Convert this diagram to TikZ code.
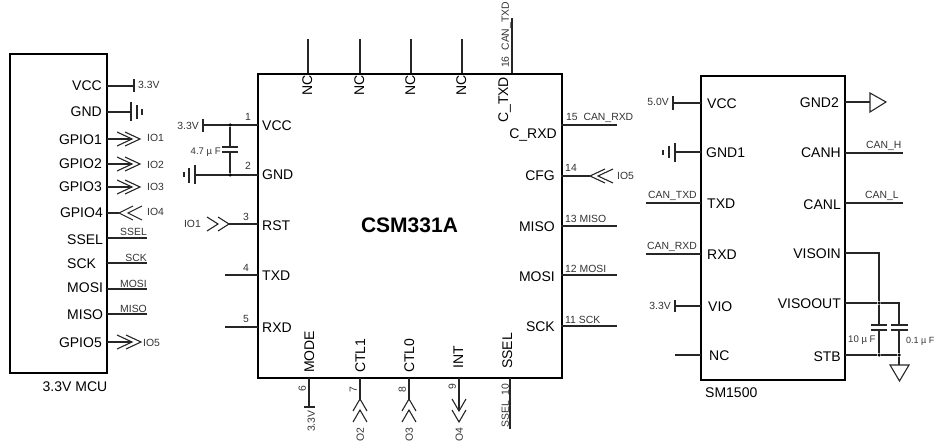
\documentclass[tikz,border=0pt]{standalone}
\usepackage{fontspec}
\setmainfont{Liberation Sans}
\newcommand{\myfs}[1]{\fontsize{#1}{#1}\selectfont}
\tikzset{
 icbox/.style={draw,line width=2pt,inner sep=0pt,rectangle},
 wire/.style={line width=1.2pt,black!85},
 chevline/.style={line width=1.1pt,black!85,line join=miter},
 pinname/.style={font=\myfs{14},inner sep=0pt,text height=10pt,text depth=0pt},
 smalltxt/.style={font=\myfs{10.4},text=black!80,inner sep=0pt,text height=7.5pt,text depth=0pt},
 capval/.style={smalltxt,font=\myfs{9.6}},
 dot/.style={circle,fill=black,inner sep=0pt,minimum size=3.5pt}
}
% \mywire{name}{x1,y1}{x2,y2}: named wire ends, then the wire between them
\newcommand{\mywire}[3]{\coordinate (#1a) at (#2);\coordinate (#1b) at (#3);\draw[wire] (#1a) -- (#1b);}
% \mychv[depth]{x,y}{angle}: one open chevron, tip at x,y
\newcommand{\mychv}[3][15]{\begin{scope}[shift={(#2)},rotate=#3]\draw[chevline] (-#1,-7) -- (0,0) -- (-#1,7);\end{scope}}
\newcommand{\mybar}[3]{\draw[wire] (#1,#2) -- (#1,#3);}
\begin{document}
\begin{tikzpicture}[x=1pt,y=-1pt]
\useasboundingbox (0,0) rectangle (935,441);
% ---------- MCU
\node[icbox,minimum width=97pt,minimum height=319pt] (mcu) at (58.5,213.5) {};
\node[pinname,anchor=center] (mcuname) at (75,386) {3.3V MCU};
\node[pinname,anchor=east] (m1) at (102,86) {VCC};
\node[pinname,anchor=east] (m2) at (102,112) {GND};
\node[pinname,anchor=east] (m3) at (102,140) {GPIO1};
\node[pinname,anchor=east] (m4) at (102,164) {GPIO2};
\node[pinname,anchor=east] (m5) at (102,187) {GPIO3};
\node[pinname,anchor=east] (m6) at (103,213) {GPIO4};
\node[pinname,anchor=west] (m7) at (67,239) {SSEL};
\node[pinname,anchor=west] (m8) at (67,263) {SCK};
\node[pinname,anchor=west] (m9) at (67,287) {MOSI};
\node[pinname,anchor=west] (m10) at (67,314) {MISO};
\node[pinname,anchor=east] (m11) at (102,342) {GPIO5};
\mywire{mv}{107,86}{134,86} \mybar{134}{79}{92}
\node[smalltxt,anchor=west] (mvt) at (138,85) {3.3V};
\mywire{mg}{107,112}{131,112} \mybar{131}{102}{121} \mybar{137}{105}{119} \mybar{142}{109}{115}
\mywire{mi1}{107,139}{132,139} \mychv{132,139}{0} \mychv{140,139}{0}
\node[smalltxt,anchor=west] (mi1t) at (147,138) {IO1};
\mywire{mi2}{107,164}{132,164} \mychv{132,164}{0} \mychv{140,164}{0}
\node[smalltxt,anchor=west] (mi2t) at (147,165) {IO2};
\mywire{mi3}{107,187}{132,187} \mychv{132,187}{0} \mychv{140,187}{0}
\node[smalltxt,anchor=west] (mi3t) at (147,187) {IO3};
\mywire{mi4}{107,213}{119,213} \mychv[14]{119,213}{180} \mychv[14]{128,213}{180}
\node[smalltxt,anchor=west] (mi4t) at (147,212) {IO4};
\mywire{ms1}{107,238}{147,238} \node[smalltxt,anchor=east] (ms1t) at (147,232) {SSEL};
\mywire{ms2}{107,263}{147,263} \node[smalltxt,anchor=east] (ms2t) at (147,258) {SCK};
\mywire{ms3}{107,289}{147,289} \node[smalltxt,anchor=east] (ms3t) at (147,284) {MOSI};
\mywire{ms4}{107,314}{147,314} \node[smalltxt,anchor=east] (ms4t) at (147,309) {MISO};
\mywire{mi5}{107,342}{132,342} \mychv{132,342}{0} \mychv{141,342}{0}
\node[smalltxt,anchor=west] (mi5t) at (143,343) {IO5};
% ---------- CSM331A
\node[icbox,minimum width=304pt,minimum height=304pt] (csm) at (409.5,226) {};
\node[font=\bfseries\myfs{21},inner sep=0pt] (csmname) at (409.5,225) {CSM331A};
\node[pinname,anchor=west] (c1) at (262,126) {VCC};
\node[pinname,anchor=west] (c2) at (262,175) {GND};
\node[pinname,anchor=west] (c3) at (262,225) {RST};
\node[pinname,anchor=west] (c4) at (262,275) {TXD};
\node[pinname,anchor=west] (c5) at (262,327) {RXD};
\node[pinname,anchor=east] (c15) at (557,134) {C\_RXD};
\node[pinname,anchor=east] (c14) at (555,176) {CFG};
\node[pinname,anchor=east] (c13) at (555,226) {MISO};
\node[pinname,anchor=east] (c12) at (555,276) {MOSI};
\node[pinname,anchor=east] (c11) at (555,326) {SCK};
\foreach \n/\xx in {a/307,b/359,c/410,d/461}{
  \node[pinname,rotate=90,anchor=west] (cnc\n) at (\xx,96) {NC};
}
\node[pinname,rotate=90,anchor=west] (c16) at (503,123) {C\_TXD};
\node[pinname,rotate=90,anchor=west] (c6) at (309,373) {MODE};
\node[pinname,rotate=90,anchor=west] (c7) at (360,373) {CTL1};
\node[pinname,rotate=90,anchor=west] (c8) at (409,373) {CTL0};
\node[pinname,rotate=90,anchor=west] (c9) at (458,369) {INT};
\node[pinname,rotate=90,anchor=west] (c10) at (507,369) {SSEL};
% left pins
\mywire{p1}{203,125}{258,125} \mybar{203}{119}{132}
\node[smalltxt,anchor=east] (p1v) at (199,126) {3.3V};
\node[smalltxt,anchor=center] (p1n) at (248,117) {1};
\mywire{p2}{195,175}{258,175} \mybar{195}{165}{184} \mybar{189}{168}{183} \mybar{184}{172}{177}
\node[smalltxt,anchor=center] (p2n) at (248,166) {2};
\node[dot] (j1) at (230,125) {};
\node[dot] (j2) at (230,175) {};
\coordinate (cp1) at (230,147); \coordinate (cp2) at (230,152);
\draw[wire] (j1) -- (cp1); \draw[wire] (cp2) -- (j2);
\draw[wire] (222,147) -- (238,147); \draw[wire] (222,152) -- (238,152);
\node[capval,anchor=east] (capa) at (221,151) {4.7 µ F};
\mywire{p3}{229,224}{258,224} \mychv[11]{229,224}{0} \mychv[11]{218,224}{0}
\node[smalltxt,anchor=east] (p3t) at (201,224) {IO1};
\node[smalltxt,anchor=center] (p3n) at (246,217) {3};
\mywire{p4}{225,275}{258,275} \node[smalltxt,anchor=center] (p4n) at (246,268) {4};
\mywire{p5}{225,327}{258,327} \node[smalltxt,anchor=center] (p5n) at (246,319) {5};
% top pins
\foreach \n/\xx in {a/308,b/360,c/411,d/462}{ \draw[wire] (\xx,39) -- (\xx,73); }
\mywire{p16}{512,18}{512,73}
\node[smalltxt,rotate=90,anchor=west] (p16t) at (505,68) {16\ \ CAN\_TXD};
% right pins
\mywire{p15}{561,125}{617,125}
\node[smalltxt,anchor=west] (p15t) at (566,117) {15\ \ CAN\_RXD};
\mywire{p14}{561,176}{590,176} \mychv{590,176}{180} \mychv{598,176}{180}
\node[smalltxt,anchor=center] (p14n) at (571,168) {14};
\node[smalltxt,anchor=west] (p14t) at (617,176) {IO5};
\mywire{p13}{561,226}{617,226} \node[smalltxt,anchor=west] (p13t) at (565,219) {13\ MISO};
\mywire{p12}{561,275}{617,275} \node[smalltxt,anchor=west] (p12t) at (565,269) {12\ MOSI};
\mywire{p11}{561,326}{617,326} \node[smalltxt,anchor=west] (p11t) at (565,320) {11\ SCK};
% bottom pins
\mywire{p6}{309,378}{309,407} \draw[wire] (304,407) -- (315,407);
\node[smalltxt,rotate=90,anchor=center] (p6n) at (302,389) {6};
\node[smalltxt,rotate=90,anchor=west] (p6t) at (311,432) {3.3V};
\mywire{p7}{360,378}{360,399} \mychv[12]{360,399}{90} \mychv[12]{360,410}{90}
\node[smalltxt,rotate=90,anchor=center] (p7n) at (353,390) {7};
\node[smalltxt,rotate=90,anchor=center] (p7t) at (360,435) {O2};
\mywire{p8}{409,378}{409,399} \mychv[12]{409,399}{90} \mychv[12]{409,410}{90}
\node[smalltxt,rotate=90,anchor=center] (p8n) at (402,390) {8};
\node[smalltxt,rotate=90,anchor=center] (p8t) at (409,435) {O3};
\mywire{p9}{459,378}{459,411} \mychv[12]{459,411}{-90} \mychv[12]{459,422}{-90}
\node[smalltxt,rotate=90,anchor=center] (p9n) at (452,387) {9};
\node[smalltxt,rotate=90,anchor=center] (p9t) at (459,435) {O4};
\mywire{p10}{510,378}{510,429}
\node[smalltxt,rotate=90,anchor=west] (p10t) at (505,428) {SSEL\ \ 10};
% ---------- SM1500
\node[icbox,minimum width=144pt,minimum height=304pt] (sm) at (773,228) {};
\node[pinname,anchor=west] (smname) at (705,392) {SM1500};
\node[pinname,anchor=west] (s1) at (707,104) {VCC};
\node[pinname,anchor=west] (s2) at (706,153) {GND1};
\node[pinname,anchor=west] (s3) at (707,203) {TXD};
\node[pinname,anchor=west] (s4) at (707,254) {RXD};
\node[pinname,anchor=west] (s5) at (708,306) {VIO};
\node[pinname,anchor=west] (s6) at (709,355) {NC};
\node[pinname,anchor=east] (s7) at (839,103) {GND2};
\node[pinname,anchor=east] (s8) at (841,153) {CANH};
\node[pinname,anchor=east] (s9) at (841,204) {CANL};
\node[pinname,anchor=east] (s10) at (841,253) {VISOIN};
\node[pinname,anchor=east] (s11) at (841,303) {VISOOUT};
\node[pinname,anchor=east] (s12) at (841,356) {STB};
\mywire{q1}{673,103}{701,103} \mybar{673}{96}{110}
\node[smalltxt,anchor=east] (q1t) at (669,102) {5.0V};
\mywire{q2}{675,152}{701,152} \mybar{675}{143}{162} \mybar{669}{146}{158} \mybar{663}{150}{155}
\mywire{q3}{646,203}{701,203} \node[smalltxt,anchor=west] (q3t) at (648,195) {CAN\_TXD};
\mywire{q4}{646,254}{701,254} \node[smalltxt,anchor=west] (q4t) at (647,246) {CAN\_RXD};
\mywire{q5}{675,306}{701,306} \mybar{675}{300}{312}
\node[smalltxt,anchor=east] (q5t) at (671,306) {3.3V};
\mywire{q6}{675,355}{701,355}
\mywire{q7}{845,102}{870,102}
\draw[chevline] (870,93) -- (886,102) -- (870,112) -- cycle;
\mywire{q8}{845,153}{903,153} \node[smalltxt,anchor=west] (q8t) at (866,145) {CAN\_H};
\mywire{q9}{845,203}{903,203} \node[smalltxt,anchor=west] (q9t) at (865,195) {CAN\_L};
\node[dot] (j3) at (879,303) {};
\node[dot] (j4) at (879,355) {};
\node[dot] (j5) at (899,355) {};
\coordinate (visoin) at (845,253); \coordinate (visoout) at (845,303); \coordinate (stb) at (845,355);
\draw[wire] (visoin) -- (879,253) -- (j3) -- (879,325);
\draw[wire] (879,330) -- (j4);
\draw[wire] (visoout) -- (j3) -- (899,303) -- (899,325);
\draw[wire] (899,330) -- (j5);
\draw[wire] (stb) -- (j4) -- (j5) -- (899,365);
\draw[wire] (871,325) -- (887,325); \draw[wire] (871,330) -- (887,330);
\draw[wire] (891,325) -- (908,325); \draw[wire] (891,330) -- (908,330);
\draw[chevline] (890,365) -- (909,365) -- (899.5,381) -- cycle;
\node[capval,anchor=west] (c10u) at (848,339) {10 µ F};
\node[capval,font=\myfs{9},anchor=east] (c01u) at (934.5,340) {0.1 µ F};
\end{tikzpicture}
\end{document}
